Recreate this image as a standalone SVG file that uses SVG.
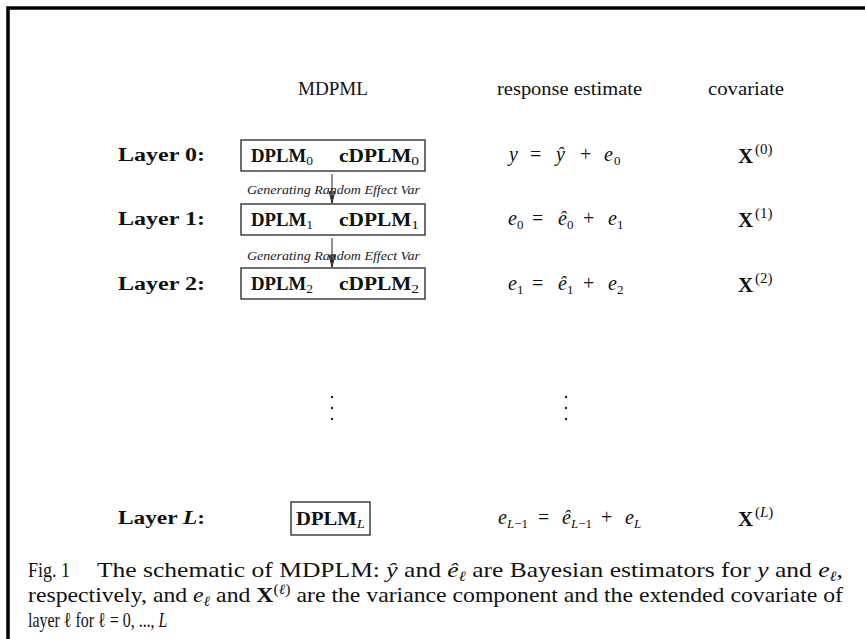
<svg xmlns="http://www.w3.org/2000/svg" width="865" height="639" viewBox="0 0 865 639">
<style>
.hd{font-family:"Liberation Serif",serif;font-size:19px;fill:#111}
.ly{font-family:"Liberation Serif",serif;font-size:18px;font-weight:bold;fill:#111}
.bx{fill:#fff;stroke:#222;stroke-width:1.3}
.bt{font-family:"Liberation Serif",serif;font-size:18px;font-weight:bold;fill:#111}
.sb{font-weight:normal;font-size:13px}
.m{font-family:"Liberation Serif",serif;font-size:20px;fill:#111}
.mi{font-family:"Liberation Serif",serif;font-size:20px;font-style:italic;fill:#111}
.s{font-family:"Liberation Serif",serif;font-size:13px;fill:#111}
.si{font-family:"Liberation Serif",serif;font-size:13px;font-style:italic;fill:#111}
.sx{font-family:"Liberation Serif",serif;font-size:15px;fill:#111}
.xb{font-family:"Liberation Serif",serif;font-size:21px;font-weight:bold;fill:#111}
.gl{font-family:"Liberation Serif",serif;font-size:13.5px;font-style:italic;fill:#222}
.cap{font-family:"Liberation Serif",serif;font-size:21px;fill:#111}
.it{font-style:italic}
.dot{fill:#222}
.ar{stroke:#222;stroke-width:1;fill:none}
</style>
<defs>
<marker id="vh" markerWidth="14" markerHeight="10" refX="13" refY="5" orient="auto" markerUnits="userSpaceOnUse" viewBox="0 0 14 10">
<path d="M1,2 L13,5 L1,8 M1,3.3 L9,5 L1,6.7" fill="none" stroke="#222" stroke-width="1"/>
</marker>
</defs>
<rect width="865" height="639" fill="#fff"/>
<path d="M8,639 L8,8 L865,8" fill="none" stroke="#000" stroke-width="3.5"/>

<g id="headers">
<text class="hd" x="298" y="95" textLength="70" lengthAdjust="spacingAndGlyphs">MDPML</text>
<text class="hd" x="497" y="95" textLength="145" lengthAdjust="spacingAndGlyphs">response estimate</text>
<text class="hd" x="708" y="95" textLength="76" lengthAdjust="spacingAndGlyphs">covariate</text>
</g>

<g id="connectors">
<line class="ar" x1="332" y1="174" x2="332" y2="203" marker-end="url(#vh)"/>
<text class="gl" x="247" y="194" textLength="173" lengthAdjust="spacingAndGlyphs">Generating Random Effect Var</text>
<line class="ar" x1="332" y1="238" x2="332" y2="267" marker-end="url(#vh)"/>
<text class="gl" x="247" y="260" textLength="173" lengthAdjust="spacingAndGlyphs">Generating Random Effect Var</text>
</g>

<g id="layer0">
<text class="ly" x="118" y="161" textLength="87" lengthAdjust="spacingAndGlyphs">Layer 0:</text>
<rect class="bx" x="241" y="140" width="184" height="31"/>
<text class="bt" x="251" y="162" textLength="62" lengthAdjust="spacingAndGlyphs">DPLM<tspan class="sb" dy="3">0</tspan></text>
<text class="bt" x="339" y="162" textLength="80" lengthAdjust="spacingAndGlyphs">cDPLM<tspan class="sb" dy="3">0</tspan></text>
<text class="mi" x="509" y="161">y</text>
<text class="m" x="530" y="161">=</text>
<text class="mi" x="556" y="161">ŷ</text>
<text class="m" x="580" y="161">+</text>
<text class="mi" x="604" y="161">e</text>
<text class="s" x="614" y="165">0</text>
<text class="xb" x="738" y="163">X</text>
<text class="sx" x="755" y="154">(0)</text>
</g>

<g id="layer1">
<text class="ly" x="118" y="225" textLength="87" lengthAdjust="spacingAndGlyphs">Layer 1:</text>
<rect class="bx" x="241" y="204" width="184" height="31"/>
<text class="bt" x="251" y="226" textLength="62" lengthAdjust="spacingAndGlyphs">DPLM<tspan class="sb" dy="3">1</tspan></text>
<text class="bt" x="339" y="226" textLength="80" lengthAdjust="spacingAndGlyphs">cDPLM<tspan class="sb" dy="3">1</tspan></text>
<text class="mi" x="508" y="225">e</text>
<text class="s" x="517" y="229">0</text>
<text class="m" x="532" y="225">=</text>
<text class="mi" x="558" y="225">ê</text>
<text class="s" x="567" y="229">0</text>
<text class="m" x="583" y="225">+</text>
<text class="mi" x="608" y="225">e</text>
<text class="s" x="617" y="229">1</text>
<text class="xb" x="738" y="227">X</text>
<text class="sx" x="755" y="218">(1)</text>
</g>

<g id="layer2">
<text class="ly" x="118" y="290" textLength="87" lengthAdjust="spacingAndGlyphs">Layer 2:</text>
<rect class="bx" x="241" y="268" width="184" height="31"/>
<text class="bt" x="251" y="290" textLength="62" lengthAdjust="spacingAndGlyphs">DPLM<tspan class="sb" dy="3">2</tspan></text>
<text class="bt" x="339" y="290" textLength="80" lengthAdjust="spacingAndGlyphs">cDPLM<tspan class="sb" dy="3">2</tspan></text>
<text class="mi" x="508" y="290">e</text>
<text class="s" x="517" y="294">1</text>
<text class="m" x="532" y="290">=</text>
<text class="mi" x="558" y="290">ê</text>
<text class="s" x="567" y="294">1</text>
<text class="m" x="583" y="290">+</text>
<text class="mi" x="608" y="290">e</text>
<text class="s" x="617" y="294">2</text>
<text class="xb" x="738" y="292">X</text>
<text class="sx" x="755" y="283">(2)</text>
</g>

<g id="ellipsis">
<circle class="dot" cx="332" cy="397" r="1.2"/>
<circle class="dot" cx="332" cy="408" r="1.2"/>
<circle class="dot" cx="332" cy="419" r="1.2"/>
<circle class="dot" cx="566" cy="397" r="1.2"/>
<circle class="dot" cx="566" cy="408" r="1.2"/>
<circle class="dot" cx="566" cy="419" r="1.2"/>
</g>

<g id="layerL">
<text class="ly" x="118" y="524" textLength="87" lengthAdjust="spacingAndGlyphs">Layer <tspan class="it">L</tspan>:</text>
<rect class="bx" x="291" y="502" width="79" height="33"/>
<text class="bt" x="296" y="525" textLength="69" lengthAdjust="spacingAndGlyphs">DPLM<tspan class="sb it" dy="3">L</tspan></text>
<text class="mi" x="498" y="524">e</text>
<text class="s" x="507" y="528"><tspan class="it">L</tspan>−1</text>
<text class="m" x="538" y="524">=</text>
<text class="mi" x="562" y="524">ê</text>
<text class="s" x="571" y="528"><tspan class="it">L</tspan>−1</text>
<text class="m" x="601" y="524">+</text>
<text class="mi" x="625" y="524">e</text>
<text class="si" x="634" y="528">L</text>
<text class="xb" x="738" y="526">X</text>
<text class="sx" x="755" y="517">(<tspan class="it">L</tspan>)</text>
</g>

<g id="caption">
<text class="cap" x="28" y="577" textLength="42" lengthAdjust="spacingAndGlyphs">Fig. 1</text>
<text class="cap" x="97" y="577" textLength="746" lengthAdjust="spacingAndGlyphs">The schematic of MDPLM: <tspan class="it">ŷ</tspan> and <tspan class="it">ê</tspan><tspan font-size="14" dy="4" class="it">ℓ</tspan><tspan dy="-4"> are Bayesian estimators for </tspan><tspan class="it">y</tspan> and <tspan class="it">e</tspan><tspan font-size="14" dy="4" class="it">ℓ</tspan><tspan dy="-4">,</tspan></text>
<text class="cap" x="28" y="602" textLength="815" lengthAdjust="spacingAndGlyphs">respectively, and <tspan class="it">e</tspan><tspan font-size="14" dy="4" class="it">ℓ</tspan><tspan dy="-4"> and </tspan><tspan font-weight="bold">X</tspan><tspan font-size="14" dy="-8">(<tspan class="it">ℓ</tspan>)</tspan><tspan dy="8"> are the variance component and the extended covariate of</tspan></text>
<text class="cap" transform="translate(28,627) scale(0.76,1)">layer ℓ for ℓ = 0, ..., <tspan class="it">L</tspan></text>
</g>
</svg>
